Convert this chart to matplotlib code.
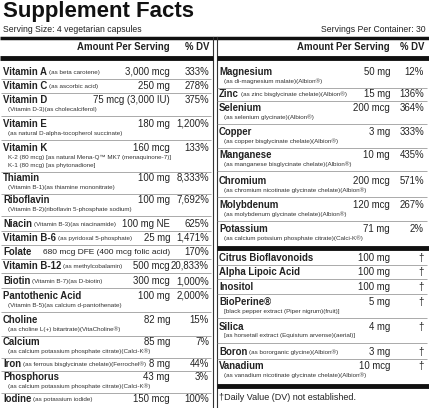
import matplotlib
matplotlib.use("Agg")
import matplotlib.pyplot as plt

FAM = ['Liberation Sans Narrow', 'Liberation Sans', 'DejaVu Sans']

left_names = ["Vitamin A", "Vitamin C", "Vitamin D", "Vitamin E", "Vitamin K", "Thiamin", "Riboflavin",
              "Niacin", "Vitamin B-6", "Folate", "Vitamin B-12", "Biotin", "Pantothenic Acid", "Choline",
              "Calcium", "Iron", "Phosphorus", "Iodine"]
left_inline = ["(as beta carotene)", "(as ascorbic acid)", "", "", "", "", "",
               "(Vitamin B-3)(as niacinamide)", "(as pyridoxal 5-phosphate)", "", "(as methylcobalamin)",
               "(Vitamin B-7)(as D-biotin)", "", "", "", "(as ferrous bisglycinate chelate)(Ferrochel\u00ae)", "",
               "(as potassium iodide)"]
left_amounts = ["3,000 mcg", "250 mg", "75 mcg (3,000 IU)", "180 mg", "160 mcg", "100 mg", "100 mg",
                "100 mg NE", "25 mg", "680 mcg DFE (400 mcg folic acid)", "500 mcg", "300 mcg", "100 mg",
                "82 mg", "85 mg", "8 mg", "43 mg", "150 mcg"]
left_dv = ["333%", "278%", "375%", "1,200%", "133%", "8,333%", "7,692%", "625%", "1,471%", "170%",
           "20,833%", "1,000%", "2,000%", "15%", "7%", "44%", "3%", "100%"]
left_subs = [[], [], ["(Vitamin D-3)(as cholecalciferol)"], ["(as natural D-alpha-tocopherol succinate)"],
             ["K-2 (80 mcg) [as natural Mena-Q\u2122 MK7 (menaquinone-7)]", "K-1 (80 mcg) [as phytonadione]"],
             ["(Vitamin B-1)(as thiamine mononitrate)"], ["(Vitamin B-2)(riboflavin 5-phosphate sodium)"],
             [], [], [], [], [], ["(Vitamin B-5)(as calcium d-pantothenate)"],
             ["(as choline L(+) bitartrate)(VitaCholine\u00ae)"],
             ["(as calcium potassium phosphate citrate)(Calci-K\u00ae)"], [],
             ["(as calcium potassium phosphate citrate)(Calci-K\u00ae)"], []]
left_y = [72, 86, 100, 124, 148, 178, 200, 224, 238, 252, 266, 281, 296, 320, 342, 364, 377, 399]

right_names = ["Magnesium", "Zinc", "Selenium", "Copper", "Manganese", "Chromium", "Molybdenum", "Potassium",
               "Citrus Bioflavonoids", "Alpha Lipoic Acid", "Inositol", "BioPerine\u00ae", "Silica", "Boron", "Vanadium"]
right_inline = ["", "(as zinc bisglycinate chelate)(Albion\u00ae)", "", "", "", "", "", "",
                "", "", "", "", "", "(as bororganic glycine)(Albion\u00ae)", ""]
right_amounts = ["50 mg", "15 mg", "200 mcg", "3 mg", "10 mg", "200 mcg", "120 mcg", "71 mg",
                 "100 mg", "100 mg", "100 mg", "5 mg", "4 mg", "3 mg", "10 mcg"]
right_dv = ["12%", "136%", "364%", "333%", "435%", "571%", "267%", "2%", "\u2020", "\u2020", "\u2020", "\u2020",
            "\u2020", "\u2020", "\u2020"]
right_subs = [["(as di-magnesium malate)(Albion\u00ae)"], [], ["(as selenium glycinate)(Albion\u00ae)"],
              ["(as copper bisglycinate chelate)(Albion\u00ae)"], ["(as manganese bisglycinate chelate)(Albion\u00ae)"],
              ["(as chromium nicotinate glycinate chelate)(Albion\u00ae)"],
              ["(as molybdenum glycinate chelate)(Albion\u00ae)"],
              ["(as calcium potssium phosphate citrate)(Calci-K\u00ae)"], [], [], [],
              ["[black pepper extract (Piper nigrum)(fruit)]"], ["[as horsetail extract (Equistum arvense)(aerial)]"],
              [], ["(as vanadium nicotinate glycinate chelate)(Albion\u00ae)"]]
right_y = [72, 94, 108, 132, 155, 181, 205, 229, 258, 272, 287, 302, 327, 352, 366]

W, H = 429, 408
fig = plt.figure(figsize=(W / 100, H / 100), dpi=100)
ax = fig.add_axes([0, 0, 1, 1])
ax.set_xlim(0, W)
ax.set_ylim(H, 0)
ax.axis('off')
fig.canvas.draw()
r = fig.canvas.get_renderer()

MAIN = 6.9
SUB = 4.5
TXT = '#222222'

def line(x0, x1, y, lw, c='#111111'):
    ax.plot([x0, x1], [y, y], color=c, lw=lw, solid_capstyle='butt')

ax.text(3, 12, "Supplement Facts", fontsize=16, fontweight='heavy', family=['Liberation Sans', 'DejaVu Sans'],
        va='center', ha='left', color='#111111')
ax.text(3, 30, "Serving Size: 4 vegetarian capsules", fontsize=6.2, family=FAM, va='center', color=TXT)
ax.text(426, 30, "Servings Per Container: 30", fontsize=6.2, family=FAM, va='center', ha='right', color=TXT)
line(0, W, 37.5, 2.5)
ax.plot([213, 213], [37, 408], color='#333333', lw=0.8)
ax.plot([217, 217], [37, 408], color='#333333', lw=0.8)

ax.text(170, 47, "Amount Per Serving", fontsize=MAIN, fontweight='bold', family=FAM, va='center', ha='right', color=TXT)
ax.text(209, 47, "% DV", fontsize=MAIN, fontweight='bold', family=FAM, va='center', ha='right', color=TXT)
ax.text(390, 47, "Amount Per Serving", fontsize=MAIN, fontweight='bold', family=FAM, va='center', ha='right', color=TXT)
ax.text(424, 47, "% DV", fontsize=MAIN, fontweight='bold', family=FAM, va='center', ha='right', color=TXT)
line(0, 213, 58, 3.5)
line(217, W, 58, 3.5)

inv = ax.transData.inverted()

def rows(x0, x1, names, inl, amts, dvs, subs, ys, ax_amt, ax_dv, breaks=()):
    for i, (n, s, a, d, sb, y) in enumerate(zip(names, inl, amts, dvs, subs, ys)):
        t = ax.text(x0, y, n, fontsize=MAIN, fontweight='bold', family=FAM, va='center', ha='left', color=TXT)
        if s:
            bb = t.get_window_extent(r)
            xe = inv.transform((bb.x1, 0))[0]
            ax.text(xe + 2, y + 0.5, s, fontsize=SUB, family=FAM, va='center', ha='left', color='#333333')
        fs = MAIN if len(a) < 20 else 6.0
        ax.text(ax_amt, y, a, fontsize=fs, family=FAM, va='center', ha='right', color=TXT)
        ax.text(ax_dv, y, d, fontsize=MAIN, family=FAM, va='center', ha='right', color=TXT)
        for k, st in enumerate(sb):
            ax.text(x0 + 5, y + 9 + 8 * k, st, fontsize=SUB, family=FAM, va='center', ha='left', color='#333333')
        bottom = y + 7 + 8 * len(sb)
        if i < len(names) - 1 and i not in breaks:
            line(x0 - 2, x1, bottom + (1 if sb else 0), 0.5, '#888888')

rows(3, 211, left_names, left_inline, left_amounts, left_dv, left_subs, left_y, 170, 209)
rows(219, 427, right_names, right_inline, right_amounts, right_dv, right_subs, right_y, 390, 424, breaks=(7,))
line(217, W, 248, 3.5)
line(217, W, 386, 3.5)
ax.text(219, 397, "\u2020Daily Value (DV) not established.", fontsize=6.5, family=FAM, va='center', ha='left', color=TXT)

fig.savefig("out.png", dpi=100)
